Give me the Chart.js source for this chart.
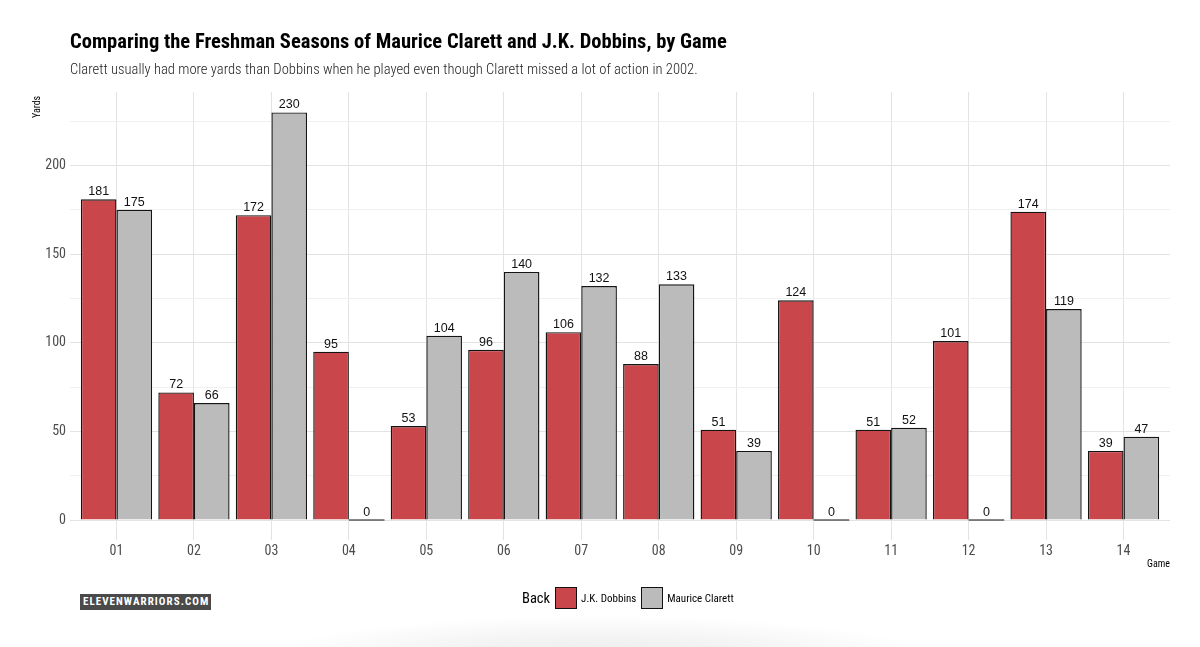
<!DOCTYPE html>
<html><head><meta charset="utf-8">
<script src="https://cdn.jsdelivr.net/npm/chart.js@4"></script>
<style>
html,body{margin:0;padding:0;background:#fff;}
#wrap{position:relative;width:1200px;height:647px;overflow:hidden;background:#fff;font-family:"Roboto Condensed","Liberation Sans Narrow",Roboto,sans-serif;}
#c{position:absolute;left:0;top:0;}
#title{position:absolute;left:70px;top:29px;font-size:20.5px;font-weight:bold;color:#000;white-space:nowrap;}
#sub{position:absolute;left:70px;top:60px;font-size:14.6px;font-weight:300;color:#222;white-space:nowrap;}
#ytitle{position:absolute;left:31px;top:118px;font-size:10px;color:#000;transform-origin:0 0;transform:rotate(-90deg);white-space:nowrap;}
#xtitle{position:absolute;right:30px;top:558px;font-size:10px;color:#000;}
#legend{position:absolute;left:522px;top:586px;height:24px;display:flex;align-items:center;white-space:nowrap;}
#legend .lt{font-size:14.5px;color:#000;margin-right:5px;}
#legend .key{width:20px;height:20px;border:1px solid #111;margin-right:4px;}
#legend .lab{font-size:11px;color:#000;margin-right:5px;}
#logo{position:absolute;left:80px;top:594px;width:131px;height:16px;background:#4a4a4a;}
#logo span{position:absolute;left:3px;top:0;color:#fff;font-family:"Roboto Condensed","Liberation Sans Narrow",sans-serif;font-weight:bold;font-size:11px;letter-spacing:1.05px;line-height:16px;white-space:nowrap;}
#shadow{position:absolute;left:250px;top:615px;width:700px;height:80px;background:radial-gradient(ellipse at 50% 60%, rgba(0,0,0,0.09) 0%, rgba(0,0,0,0.035) 45%, rgba(0,0,0,0) 70%);}
</style></head>
<body>
<div id="wrap">
<canvas id="c" width="1200" height="647"></canvas>
<div id="title">Comparing the Freshman Seasons of Maurice Clarett and J.K. Dobbins, by Game</div>
<div id="sub">Clarett usually had more yards than Dobbins when he played even though Clarett missed a lot of action in 2002.</div>
<div id="ytitle">Yards</div>
<div id="xtitle">Game</div>
<div id="legend"><span class="lt">Back</span><span class="key" style="background:#C9474A"></span><span class="lab">J.K. Dobbins</span><span class="key" style="background:#BBBBBB"></span><span class="lab">Maurice Clarett</span></div>
<div id="logo"><span>ELEVENWARRIORS.COM</span></div>
<div id="shadow"></div>
</div>
<script>
const games = ["01","02","03","04","05","06","07","08","09","10","11","12","13","14"];
const dobbins = [181,72,172,95,53,96,106,88,51,124,51,101,174,39];
const clarett = [175,66,230,0,104,140,132,133,39,0,52,0,119,47];
const yTicks = [0,25,50,75,100,125,150,175,200,225];
const yLabelTicks = [0,50,100,150,200];

const FONT = '"Roboto Condensed","Liberation Sans Narrow",Roboto,sans-serif';

const labelPlugin = {
  id: 'valLabels',
  afterDatasetsDraw(chart) {
    const ctx = chart.ctx;
    ctx.save();
    chart.data.datasets.forEach((ds, di) => {
      const meta = chart.getDatasetMeta(di);
      meta.data.forEach((bar, i) => {
        const v = ds.data[i].y;
        if (v === 0) {
          ctx.strokeStyle = '#111';
          ctx.lineWidth = 1.2;
          ctx.beginPath();
          ctx.moveTo(bar.x - bar.width / 2, bar.base);
          ctx.lineTo(bar.x + bar.width / 2, bar.base);
          ctx.stroke();
        }
        ctx.fillStyle = '#111';
        ctx.font = '12.5px "Liberation Sans", Arial, sans-serif';
        ctx.textAlign = 'center';
        ctx.textBaseline = 'alphabetic';
        ctx.fillText(String(v), bar.x, bar.y - 4);
      });
    });
    ctx.restore();
  }
};

new Chart(document.getElementById('c'), {
  type: 'bar',
  data: {
    datasets: [
      { label: 'J.K. Dobbins', data: dobbins.map((v, i) => ({x: i + 1, y: v})),
        backgroundColor: '#C9474A', borderColor: '#141414', borderWidth: 1.4 },
      { label: 'Maurice Clarett', data: clarett.map((v, i) => ({x: i + 1, y: v})),
        backgroundColor: '#BBBBBB', borderColor: '#141414', borderWidth: 1.4 }
    ]
  },
  options: {
    responsive: false,
    animation: false,
    datasets: { bar: { categoryPercentage: 0.92, barPercentage: 1.0 } },
    layout: { padding: { left: 0, top: 92, right: 30, bottom: 66.6 } },
    plugins: { legend: { display: false }, tooltip: { enabled: false } },
    scales: {
      x: {
        type: 'linear', min: 0.4, max: 14.6, offset: false,
        afterBuildTicks(s) { s.ticks = games.map((g, i) => ({value: i + 1})); },
        afterFit(s) { s.height = 40; },
        ticks: { callback: (v) => games[v - 1] || '', color: '#4d4d4d', padding: 3,
                 font: { family: FONT, size: 14 }, autoSkip: false, maxRotation: 0 },
        grid: { color: '#e3e3e3', lineWidth: 1, drawTicks: false, offset: false },
        border: { display: false }
      },
      y: {
        min: -11.5, max: 241.5,
        afterBuildTicks(s) { s.ticks = yTicks.map(v => ({value: v})); },
        afterFit(s) { s.width = 70; },
        ticks: { callback: (v) => yLabelTicks.includes(v) ? String(v) : '', color: '#4d4d4d', padding: 4,
                 font: { family: FONT, size: 14 }, autoSkip: false },
        grid: { color: (c) => (c.tick && yLabelTicks.includes(c.tick.value)) ? '#e3e3e3' : '#f0f0f0',
                lineWidth: 1, drawTicks: false },
        border: { display: false }
      }
    }
  },
  plugins: [labelPlugin]
});
</script>
</body></html>
